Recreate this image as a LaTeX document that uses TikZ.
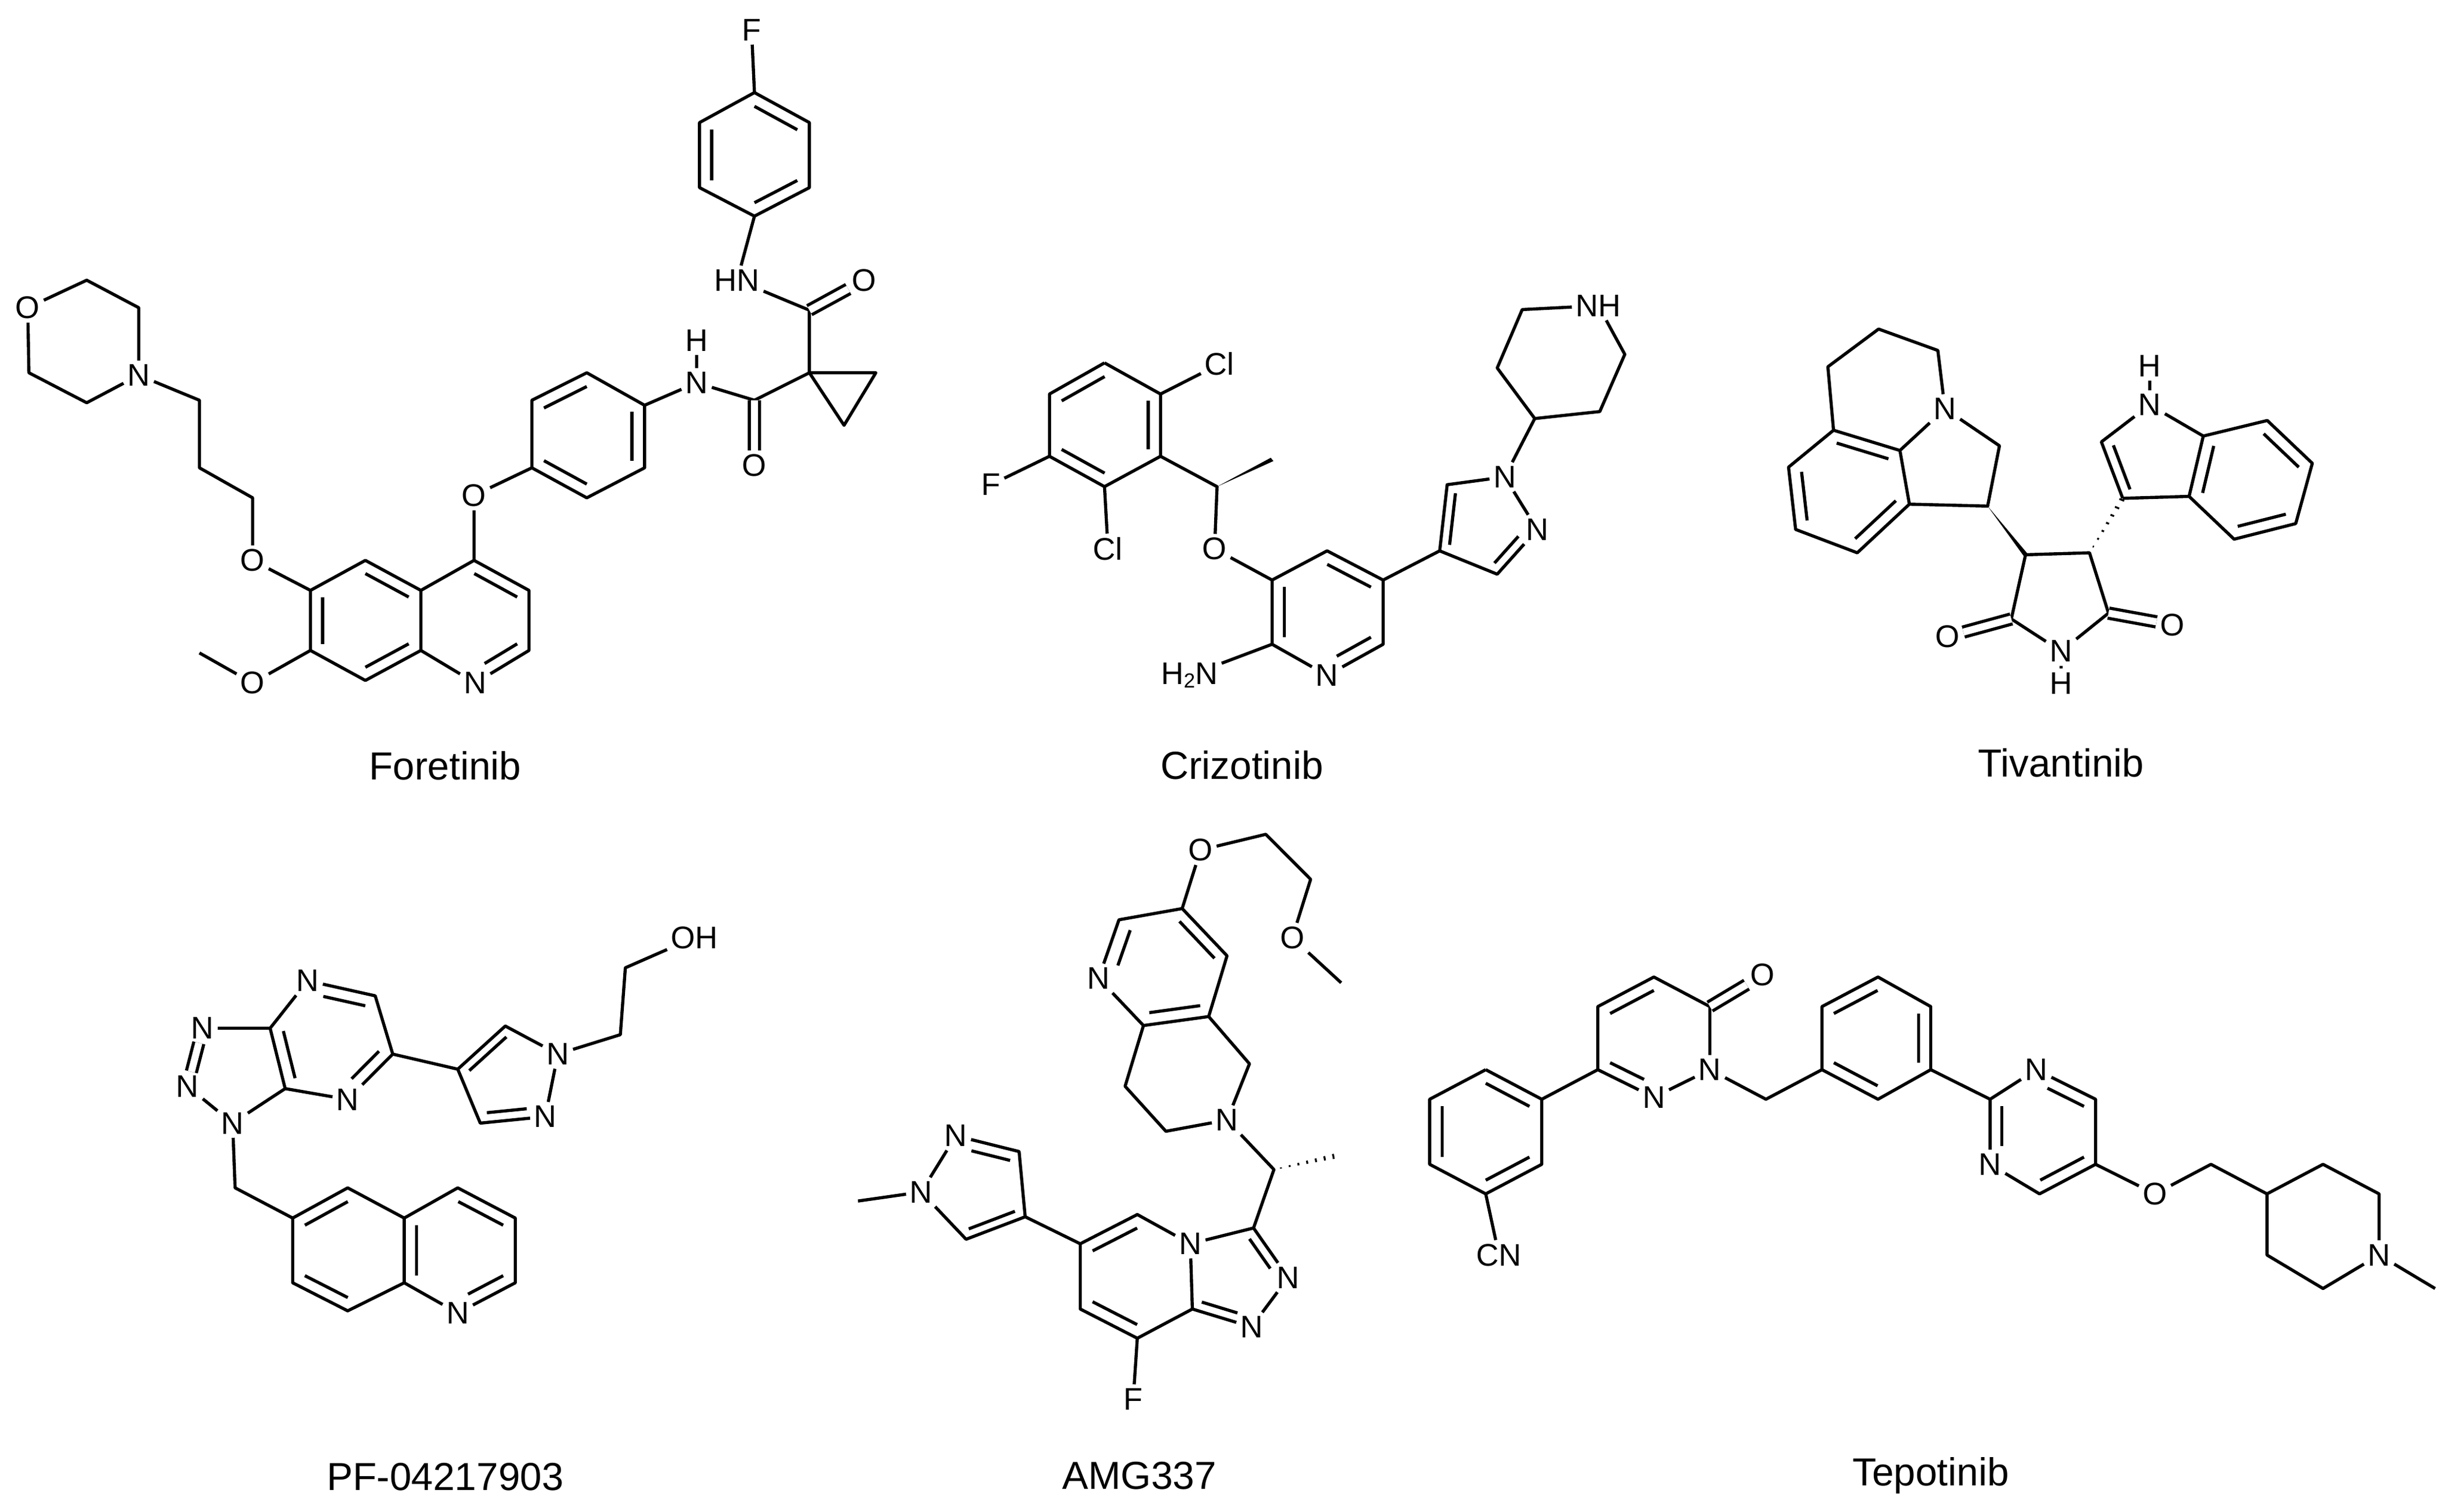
\documentclass[tikz,border=0pt]{standalone}
\usepackage{fontspec}
\setmainfont{Liberation Sans}
\usetikzlibrary{calc}
\newcommand\atomfont{\fontsize{20}{22}\selectfont}
\newcommand\lblfont{\fontsize{25}{27}\selectfont}
\newcommand\dbl[4][]{\draw[#1] ($(#2)!0.22!(#4)$) -- ($(#3)!0.22!(#4)$);}
\newcommand\wedgeb[2]{\fill (#1) -- ($(#2)!5pt!90:(#1)$) -- ($(#2)!5pt!-90:(#1)$) -- cycle;}
\newcommand\hashb[2]{\foreach \i in {1,...,7}{\pgfmathsetmacro\tt{(\i-0.2)/7}\pgfmathsetmacro\ww{0.8+\tt*5}
  \coordinate (hp) at ($(#1)!\tt!(#2)$);
  \draw[line width=1.2pt] ($(hp)!\ww pt!90:(#2)$) -- ($(hp)!\ww pt!-90:(#2)$);}}
\tikzset{atm/.style={inner sep=1.5pt,font=\atomfont},lbl/.style={font=\lblfont},dbo/.style={double,double distance=4.5pt}}
\begin{document}
\begin{tikzpicture}[x=1pt,y=-1pt,line width=2pt,line join=round]
\useasboundingbox[fill=white] (0,0) rectangle (1564,967);
% ---------------- Foretinib
\begin{scope}[xscale=0.3698,yscale=0.32]
\coordinate (A1) at (1305,185);\coordinate (A2) at (1400,245);\coordinate (A3) at (1400,375);
\coordinate (A4) at (1305,432);\coordinate (A5) at (1210,375);\coordinate (A6) at (1210,245);\coordinate (Ac) at (1305,310);
\node[atm] (AF) at (1300,60) {F};
\node[atm] (AHN) at (1275,560) {HN};
\coordinate (AC1) at (1400,620);\node[atm] (AO1) at (1495,560) {O};
\coordinate (ACq) at (1400,745);\coordinate (ACp1) at (1515,745);\coordinate (ACp2) at (1460,850);
\coordinate (AC2) at (1305,800);\node[atm] (AO2) at (1305,930) {O};
\node[atm] (AN2) at (1205,765) {N};\node[atm] (AH2) at (1205,680) {H};
\coordinate (AB1) at (1115,810);\coordinate (AB2) at (1015,745);\coordinate (AB3) at (920,800);
\coordinate (AB4) at (920,935);\coordinate (AB5) at (1015,995);\coordinate (AB6) at (1115,935);\coordinate (ABc) at (1015,870);
\node[atm] (AO3) at (820,990) {O};
\coordinate (Aq4) at (820,1120);\coordinate (Aq3) at (915,1180);\coordinate (Aq2) at (915,1300);
\node[atm] (AqN) at (822,1365) {N};\coordinate (Aq8a) at (728,1300);\coordinate (Aq4a) at (728,1180);
\coordinate (Aq5) at (632,1120);\coordinate (Aq6) at (537,1180);\coordinate (Aq7) at (537,1300);\coordinate (Aq8) at (632,1360);
\coordinate (Aqc1) at (822,1240);\coordinate (Aqc2) at (632,1240);
\node[atm] (AO6) at (437,1120) {O};\node[atm] (AO7) at (437,1365) {O};\coordinate (AMe) at (345,1305);
\coordinate (Ap1) at (437,995);\coordinate (Ap2) at (345,935);\coordinate (Ap3) at (345,800);
\node[atm] (ANm) at (240,750) {N};\coordinate (Am1) at (150,805);\coordinate (Am2) at (50,745);
\node[atm] (AOm) at (48,615) {O};\coordinate (Am3) at (150,560);\coordinate (Am4) at (240,615);
\draw (AF)--(A1)--(A2)--(A3)--(A4)--(A5)--(A6)--(A1);
\dbl{A1}{A2}{Ac}\dbl{A5}{A6}{Ac}\dbl{A3}{A4}{Ac}
\draw (A4)--(AHN) (AHN)--(AC1)--(ACq) (ACq)--(ACp1)--(ACp2)--(ACq)--(AC2)--(AN2)--(AB1);
\draw[dbo] (AC1)--(AO1); \draw[dbo] (AC2)--(AO2); \draw (AN2)--(AH2);
\draw (AB1)--(AB2)--(AB3)--(AB4)--(AB5)--(AB6)--(AB1);
\dbl{AB2}{AB3}{ABc}\dbl{AB1}{AB6}{ABc}\dbl{AB4}{AB5}{ABc}
\draw (AB4)--(AO3)--(Aq4);
\draw (Aq4)--(Aq3)--(Aq2)--(AqN)--(Aq8a)--(Aq4a)--(Aq4) (Aq4a)--(Aq5)--(Aq6)--(Aq7)--(Aq8)--(Aq8a);
\dbl{Aq4}{Aq3}{Aqc1}\dbl[shorten >=7pt]{Aq2}{AqN}{Aqc1}\dbl{Aq5}{Aq4a}{Aqc2}\dbl{Aq6}{Aq7}{Aqc2}\dbl{Aq8}{Aq8a}{Aqc2}
\draw (Aq6)--(AO6)--(Ap1)--(Ap2)--(Ap3)--(ANm) (Aq7)--(AO7)--(AMe);
\draw (ANm)--(Am1)--(Am2)--(AOm)--(Am3)--(Am4)--(ANm);
\node[lbl] (Alab) at (770,1530) {Foretinib};
\end{scope}
% ---------------- Crizotinib
\begin{scope}[shift={(576.9,110.9)},xscale=0.32,yscale=0.2489]
\coordinate (B1) at (405,487);\coordinate (B2) at (517,567);\coordinate (B3) at (517,727);
\coordinate (B4) at (405,805);\coordinate (B5) at (295,727);\coordinate (B6) at (295,567);\coordinate (Bc) at (406,647);
\node[atm] (BCl1) at (635,490) {Cl};\node[atm] (BF) at (178,800) {F};\node[atm] (BCl2) at (412,965) {Cl};
\coordinate (BC) at (630,805);\coordinate (BMe) at (740,735);\node[atm] (BO) at (625,965) {O};
\coordinate (P3) at (740,1045);\coordinate (P4) at (850,970);\coordinate (P5) at (962,1045);
\coordinate (P6) at (962,1210);\node[atm] (PN) at (850,1290) {N};\coordinate (P2) at (740,1210);\coordinate (Pc) at (851,1128);
\node[atm] (BNH) at (575,1290) {H{\fontsize{13}{13}\selectfont\raisebox{-0.35ex}{2}}N};
\coordinate (Z4) at (1075,970);\coordinate (Z5) at (1090,800);\node[atm] (ZN1) at (1205,780) {N};
\node[atm] (ZN2) at (1270,915) {N};\coordinate (Z3) at (1190,1030);\coordinate (Zc) at (1165,900);
\coordinate (Q1) at (1265,630);\coordinate (Q2) at (1395,612);\coordinate (Q3) at (1445,465);
\node[atm] (QNH) at (1392,340) {NH};\coordinate (Q5) at (1240,350);\coordinate (Q6) at (1190,500);
\draw (B1)--(B2)--(B3)--(B4)--(B5)--(B6)--(B1);
\dbl{B6}{B1}{Bc}\dbl{B2}{B3}{Bc}\dbl{B4}{B5}{Bc}
\draw (B2)--(BCl1) (B5)--(BF) (B4)--(BCl2) (B3)--(BC)--(BO)--(P3);
\wedgeb{BC}{BMe}
\draw (P3)--(P4)--(P5)--(P6)--(PN)--(P2)--(P3) (P2)--(BNH);
\dbl{P4}{P5}{Pc}\dbl[shorten >=7pt]{P6}{PN}{Pc}\dbl{P2}{P3}{Pc}
\draw (P5)--(Z4)--(Z5)--(ZN1)--(ZN2)--(Z3)--(Z4);
\dbl{Z4}{Z5}{Zc}\dbl[shorten <=7pt]{ZN2}{Z3}{Zc}
\draw (ZN1)--(Q1)--(Q2)--(Q3)--(QNH)--(Q5)--(Q6)--(Q1);
\node[lbl] (Blab) at (680,1520) {Crizotinib};
\end{scope}
% ---------------- Tivantinib
\begin{scope}[shift={(1091,110.9)},xscale=0.3032,yscale=0.2489]
\coordinate (Ca) at (258,497);\coordinate (Cb) at (365,400);\coordinate (Cc) at (490,455);
\node[atm] (CN) at (505,605) {N};\coordinate (Cd) at (270,660);\coordinate (Ce1) at (175,755);
\coordinate (Ce2) at (190,915);\coordinate (Ce3) at (320,975);\coordinate (Ce4) at (430,850);
\coordinate (C9) at (410,712);\coordinate (Cbc) at (300,810);\coordinate (CH2) at (620,700);\coordinate (CH) at (595,855);
\coordinate (S3) at (675,980);\coordinate (S4) at (810,975);\coordinate (S5) at (850,1130);
\node[atm] (SN) at (750,1228) {N};\node[atm] (SH) at (750,1310) {H};\coordinate (S2) at (645,1145);
\node[atm] (SO1) at (510,1190) {O};\node[atm] (SO2) at (985,1160) {O};
\coordinate (I3) at (880,835);\coordinate (I2) at (835,690);\node[atm] (IN) at (937,595) {N};
\node[atm] (IH) at (937,495) {H};\coordinate (I7a) at (1050,675);\coordinate (I3a) at (1020,830);
\coordinate (Ipc) at (950,730);\coordinate (I7) at (1185,635);\coordinate (I6) at (1280,745);
\coordinate (I5) at (1245,900);\coordinate (I4) at (1115,940);\coordinate (Ibc) at (1150,790);
\draw (Cd)--(Ca)--(Cb)--(Cc)--(CN)--(C9) (CN)--(CH2)--(CH)--(Ce4)--(C9)--(Cd)--(Ce1)--(Ce2)--(Ce3)--(Ce4);
\dbl{Cd}{C9}{Cbc}\dbl{Ce1}{Ce2}{Cbc}\dbl{Ce3}{Ce4}{Cbc}
\wedgeb{CH}{S3}
\hashb{S4}{I3}
\draw (S3)--(S4)--(S5)--(SN)--(S2)--(S3) (SN)--(SH);
\draw[dbo] (S2)--(SO1); \draw[dbo] (S5)--(SO2);
\draw (I3)--(I2)--(IN)--(I7a)--(I3a)--(I3) (IN)--(IH) (I7a)--(I7)--(I6)--(I5)--(I4)--(I3a);
\dbl{I2}{I3}{Ipc}\dbl{I7a}{I3a}{Ibc}\dbl{I7}{I6}{Ibc}\dbl{I5}{I4}{Ibc}
\node[lbl] (Clab) at (750,1515) {Tivantinib};
\end{scope}
% ---------------- PF-04217903
\begin{scope}[shift={(0,536.2)},xscale=0.32,yscale=0.276]
\coordinate (D7a) at (540,440);\node[atm] (DN1) at (405,440) {N};\node[atm] (DN2) at (375,575) {N};
\node[atm] (DN3) at (465,660) {N};\coordinate (D3a) at (570,580);
\node[atm] (DN4) at (615,330) {N};\coordinate (D5) at (750,365);\coordinate (D6) at (785,500);
\node[atm] (DN7) at (695,605) {N};\coordinate (Dzc) at (660,470);
\coordinate (DP4) at (915,535);\coordinate (DP5) at (1010,435);\node[atm] (DPN1) at (1115,500) {N};
\node[atm] (DPN2) at (1090,645) {N};\coordinate (DP3) at (960,660);\coordinate (DPc) at (1020,550);
\coordinate (Da) at (1240,455);\coordinate (Db) at (1250,300);\node[atm] (DOH) at (1388,230) {OH};
\coordinate (Dc) at (470,810);
\coordinate (DQ6) at (585,880);\coordinate (DQ5) at (695,810);\coordinate (DQ4a) at (808,880);
\coordinate (DQ8a) at (808,1030);\coordinate (DQ8) at (695,1095);\coordinate (DQ7) at (585,1030);\coordinate (DQc1) at (696,955);
\coordinate (DQ4) at (915,810);\coordinate (DQ3) at (1030,880);\coordinate (DQ2) at (1030,1030);
\node[atm] (DQN) at (915,1100) {N};\coordinate (DQc2) at (920,955);
\draw (D7a)--(DN1) (DN2)--(DN3)--(D3a)--(D7a)--(DN4)--(D5)--(D6)--(DN7)--(D3a);
\draw[dbo] (DN1)--(DN2);
\dbl{D3a}{D7a}{Dzc}\dbl[shorten <=7pt]{DN4}{D5}{Dzc}\dbl[shorten >=7pt]{D6}{DN7}{Dzc}
\draw (D6)--(DP4)--(DP5)--(DPN1)--(DPN2)--(DP3)--(DP4);
\dbl{DP4}{DP5}{DPc}\dbl[shorten <=7pt]{DPN2}{DP3}{DPc}
\draw (DPN1)--(Da)--(Db)--(DOH);
\draw (DN3)--(Dc)--(DQ6);
\draw (DQ6)--(DQ5)--(DQ4a)--(DQ8a)--(DQ8)--(DQ7)--(DQ6) (DQ4a)--(DQ4)--(DQ3)--(DQ2)--(DQN)--(DQ8a);
\dbl{DQ6}{DQ5}{DQc1}\dbl{DQ7}{DQ8}{DQc1}\dbl{DQ4a}{DQ8a}{DQc2}\dbl{DQ4}{DQ3}{DQc2}\dbl[shorten >=7pt]{DQ2}{DQN}{DQc2}
\node[lbl] (Dlab) at (890,1480) {PF-04217903};
\end{scope}
% ---------------- AMG337
\begin{scope}[shift={(499.3,517.8)},xscale=0.2608,yscale=0.2878]
\coordinate (E1) at (985,220);\coordinate (E2) at (830,245);\node[atm] (EN1) at (780,375) {N};
\coordinate (E8a) at (890,480);\coordinate (E4a) at (1050,460);\coordinate (E5) at (1095,325);\coordinate (Ec0) at (955,350);
\node[atm] (EO1) at (1030,90) {O};\coordinate (Ea) at (1190,55);\coordinate (Eb) at (1300,155);
\node[atm] (EO2) at (1255,285) {O};\coordinate (EMe) at (1375,385);
\coordinate (Ec) at (845,615);\coordinate (Ed) at (945,715);\node[atm] (EN2) at (1095,690) {N};\coordinate (Ee) at (1150,565);
\coordinate (EC) at (1210,800);\coordinate (EMe2) at (1360,770);
\coordinate (T3) at (1160,930);\node[atm] (TN4) at (1005,965) {N};\coordinate (T8a) at (1010,1110);
\node[atm] (TN1) at (1155,1150) {N};\node[atm] (TN2) at (1245,1040) {N};\coordinate (Tc) at (1115,1040);
\coordinate (T5) at (875,900);\coordinate (T6) at (735,965);\coordinate (T7) at (735,1110);\coordinate (T8) at (875,1175);
\coordinate (Tpc) at (873,1037);\node[atm] (TF) at (865,1310) {F};
\coordinate (R4) at (600,905);\coordinate (R3) at (585,760);\node[atm] (RN2) at (430,725) {N};
\node[atm] (RN1) at (345,850) {N};\coordinate (R5) at (455,955);\coordinate (Rc) at (485,850);\coordinate (RMe) at (190,870);
\draw (E1)--(E2)--(EN1)--(E8a)--(E4a)--(E5)--(E1)--(EO1)--(Ea)--(Eb)--(EO2)--(EMe);
\dbl[shorten >=7pt]{E2}{EN1}{Ec0}\dbl{E8a}{E4a}{Ec0}\dbl{E5}{E1}{Ec0}
\draw (E8a)--(Ec)--(Ed)--(EN2)--(Ee)--(E4a) (EN2)--(EC)--(T3);
\hashb{EC}{EMe2}
\draw (T3)--(TN2)--(TN1)--(T8a)--(TN4)--(T3) (TN4)--(T5)--(T6)--(T7)--(T8)--(T8a) (T8)--(TF);
\dbl[shorten >=7pt]{T3}{TN2}{Tc}\dbl[shorten <=7pt]{TN1}{T8a}{Tc}\dbl{T5}{T6}{Tpc}\dbl{T7}{T8}{Tpc}
\draw (T6)--(R4)--(R3)--(RN2)--(RN1)--(R5)--(R4) (RN1)--(RMe);
\dbl[shorten <=7pt]{RN2}{R3}{Rc}\dbl{R4}{R5}{Rc}
\node[lbl] (Elab) at (880,1480) {AMG337};
\end{scope}
% ---------------- Tepotinib
\begin{scope}[shift={(906.1,573.2)},xscale=0.4217,yscale=0.2522]
\coordinate (F1) at (105,440);\coordinate (F2) at (190,515);\coordinate (F3) at (190,680);
\coordinate (F4) at (105,755);\coordinate (F5) at (20,680);\coordinate (F6) at (20,515);\coordinate (Fc) at (105,597);
\node[atm] (FCN) at (125,910) {CN};
\coordinate (G3) at (275,440);\coordinate (G4) at (275,280);\coordinate (G5) at (360,205);\coordinate (G6) at (445,280);
\node[atm] (GN1) at (445,440) {N};\node[atm] (GN2) at (360,510) {N};\coordinate (Gc) at (360,360);
\node[atm] (GO) at (525,200) {O};\coordinate (Gm) at (530,515);
\coordinate (H1) at (615,440);\coordinate (H2) at (615,280);\coordinate (H3) at (700,205);
\coordinate (H4) at (780,280);\coordinate (H5) at (780,440);\coordinate (H6) at (700,515);\coordinate (Hc) at (697,360);
\coordinate (K2) at (870,515);\node[atm] (KN3) at (940,440) {N};\coordinate (K4) at (1030,515);
\coordinate (K5) at (1030,680);\coordinate (K6) at (945,755);\node[atm] (KN1) at (870,680) {N};\coordinate (Kc) at (950,597);
\node[atm] (KO) at (1120,755) {O};\coordinate (Ka) at (1205,680);
\coordinate (L1) at (1290,755);\coordinate (L2) at (1375,680);\coordinate (L3) at (1460,755);
\node[atm] (LN) at (1460,910) {N};\coordinate (L5) at (1375,995);\coordinate (L6) at (1290,910);\coordinate (LMe) at (1545,995);
\draw (F1)--(F2)--(F3)--(F4)--(F5)--(F6)--(F1) (F4)--(FCN);
\dbl{F1}{F2}{Fc}\dbl{F3}{F4}{Fc}\dbl{F5}{F6}{Fc}
\draw (F2)--(G3)--(G4)--(G5)--(G6)--(GN1)--(GN2)--(G3);
\draw[dbo] (G6)--(GO);
\dbl{G4}{G5}{Gc}\dbl[shorten >=7pt]{G3}{GN2}{Gc}
\draw (GN1)--(Gm)--(H1)--(H2)--(H3)--(H4)--(H5)--(H6)--(H1);
\dbl{H2}{H3}{Hc}\dbl{H4}{H5}{Hc}\dbl{H1}{H6}{Hc}
\draw (H5)--(K2)--(KN3)--(K4)--(K5)--(K6)--(KN1)--(K2);
\dbl[shorten <=7pt]{KN3}{K4}{Kc}\dbl{K5}{K6}{Kc}\dbl[shorten >=7pt]{K2}{KN1}{Kc}
\draw (K5)--(KO)--(Ka)--(L1)--(L2)--(L3)--(LN)--(L5)--(L6)--(L1) (LN)--(LMe);
\node[lbl] (Flab) at (780,1470) {Tepotinib};
\end{scope}
\end{tikzpicture}
\end{document}
